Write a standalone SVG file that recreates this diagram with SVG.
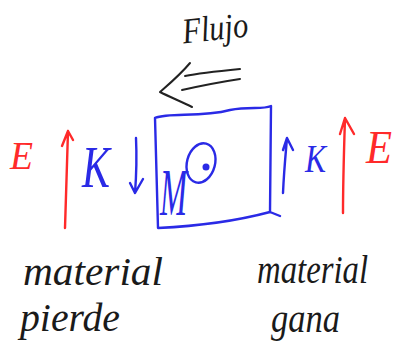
<svg xmlns="http://www.w3.org/2000/svg" width="393" height="357" viewBox="0 0 393 357">
<style>
.blue{stroke:#2a2ae6;fill:none;stroke-width:2.4;stroke-linecap:round;stroke-linejoin:round}
.red{stroke:#ff2a2a;fill:none;stroke-width:2.4;stroke-linecap:round;stroke-linejoin:round}
.ink{stroke:#222;fill:none;stroke-width:2;stroke-linecap:round;stroke-linejoin:round}
.hand{font-family:"Liberation Serif",serif;font-style:italic}
.tb{fill:#2a2ae6}
.tr{fill:#ff2a2a}
.tk{fill:#1a1a1a}
</style>
<g id="flujo">
<text class="hand tk" x="182" y="40" font-size="36" textLength="66" lengthAdjust="spacingAndGlyphs" transform="rotate(-6 215 28)">Flujo</text>
</g>
<g id="caja">
<path class="blue" d="M155,118 C170,112 200,118 230,110 C250,106 262,110 271,106 L270,212 L280,216 M270,212 C240,220 200,226 158,228 L155,118"/>
<text class="hand tb" x="160" y="215" font-size="68" textLength="27" lengthAdjust="spacingAndGlyphs">M</text>
<ellipse class="blue" cx="201" cy="163" rx="14" ry="20" transform="rotate(15 201 163)"/>
<circle cx="206" cy="167" r="3.5" fill="#2a2ae6"/>
</g>
<g id="izquierda">
<text class="hand tr" x="10" y="169" font-size="40" textLength="23" lengthAdjust="spacingAndGlyphs">E</text>
<text class="hand tb" x="82" y="187" font-size="60" textLength="28" lengthAdjust="spacingAndGlyphs">K</text>
<text class="hand tk" x="23" y="285" font-size="40" textLength="140" lengthAdjust="spacingAndGlyphs">material</text>
<text class="hand tk" x="20" y="331" font-size="40" textLength="100" lengthAdjust="spacingAndGlyphs">pierde</text>
</g>
<g id="derecha">
<text class="hand tr" x="366" y="163" font-size="46" textLength="26" lengthAdjust="spacingAndGlyphs">E</text>
<text class="hand tb" x="305" y="172" font-size="40" textLength="21" lengthAdjust="spacingAndGlyphs">K</text>
<text class="hand tk" x="257" y="283" font-size="40" textLength="111" lengthAdjust="spacingAndGlyphs">material</text>
<text class="hand tk" x="271" y="332" font-size="40" textLength="69" lengthAdjust="spacingAndGlyphs">gana</text>
</g>
<g id="conectores">
<path class="ink" d="M240,69 C220,71 200,73 185,76 M240,79 C220,82 200,86 182,90 M190,63 C180,75 168,85 160,92 C170,97 182,102 192,107"/>
<path class="red" d="M65,228 C66,200 67,160 68,131 M62,146 L68,131 L73,140"/>
<path class="blue" d="M136,138 C137,160 136,180 135,193 M130,183 L135,193 L143,179"/>
<path class="blue" d="M283,193 C284,170 286,150 287,138 M283,150 L287,138 L293,150"/>
<path class="red" d="M343,213 C343,180 344,150 345,118 M340,134 L345,118 L354,134"/>
</g>
</svg>
